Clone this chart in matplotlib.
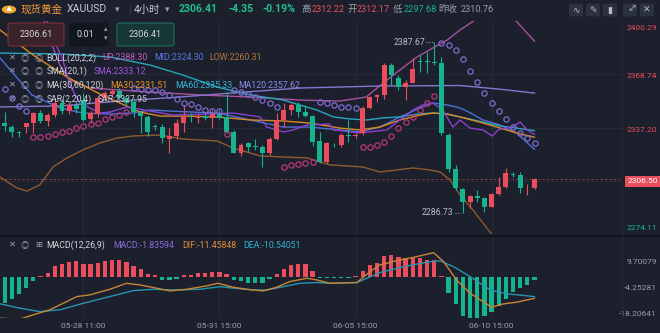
import numpy as np
import matplotlib
matplotlib.use("Agg")
import matplotlib.pyplot as plt
from matplotlib.patches import FancyBboxPatch, Circle
from matplotlib.lines import Line2D

plt.rcParams['font.family'] = ['Roboto', 'Noto Sans CJK SC', 'DejaVu Sans']

# ---- 4h candles, XAUUSD ----
opens = [2340.1, 2337.7, 2334.4, 2337.7, 2339.7, 2346.0, 2341.3, 2344.6, 2351.6, 2347.0,
         2350.5, 2353.5, 2342.3, 2345.2, 2354.5, 2357.1, 2359.0, 2354.5, 2352.5, 2345.7,
         2343.3, 2338.1, 2337.4, 2330.3, 2332.2, 2340.1, 2343.6, 2342.7, 2344.1, 2342.7,
         2345.1, 2343.6, 2334.8, 2322.3, 2327.9, 2325.9, 2325.9, 2322.0, 2330.3, 2341.7,
         2347.6, 2350.6, 2346.6, 2344.1, 2329.3, 2317.0, 2327.6, 2326.9, 2332.8, 2332.5,
         2333.8, 2349.0, 2355.1, 2356.5, 2374.2, 2366.7, 2361.0, 2363.8, 2376.6, 2376.6,
         2376.2, 2375.3, 2332.8, 2312.7, 2300.7, 2293.3, 2296.7, 2295.3, 2290.4, 2297.9,
         2302.2, 2309.7, 2309.1, 2301.2, 2301.2]
highs = [2346.6, 2338.7, 2335.0, 2340.1, 2346.6, 2347.6, 2345.7, 2354.7, 2354.0, 2352.5,
         2353.0, 2357.7, 2347.0, 2355.9, 2359.0, 2360.0, 2360.6, 2356.0, 2354.7, 2347.6,
         2344.6, 2339.3, 2339.3, 2336.8, 2342.1, 2350.6, 2345.8, 2345.2, 2345.2, 2347.6,
         2347.6, 2358.4, 2335.8, 2327.9, 2328.8, 2330.4, 2326.9, 2331.6, 2345.7, 2351.6,
         2351.6, 2352.5, 2350.6, 2344.6, 2334.8, 2328.8, 2328.2, 2333.8, 2341.7, 2333.8,
         2350.0, 2355.9, 2357.1, 2375.3, 2375.3, 2368.3, 2365.4, 2378.2, 2380.2, 2382.1,
         2387.67, 2378.8, 2333.8, 2315.0, 2301.2, 2297.3, 2300.2, 2296.3, 2298.5, 2308.1,
         2313.1, 2311.1, 2311.1, 2303.8, 2307.2]
lows = [2335.4, 2331.8, 2331.8, 2334.0, 2334.2, 2340.1, 2338.1, 2343.5, 2345.5, 2345.0,
        2346.0, 2341.1, 2339.9, 2343.5, 2353.0, 2355.9, 2353.5, 2350.5, 2343.6, 2334.2,
        2332.2, 2335.8, 2327.9, 2322.3, 2330.3, 2334.8, 2340.7, 2339.7, 2341.7, 2336.8,
        2342.0, 2334.0, 2322.0, 2320.4, 2322.9, 2323.9, 2314.0, 2321.0, 2329.8, 2337.7,
        2344.6, 2343.6, 2343.6, 2326.3, 2316.0, 2316.2, 2325.9, 2325.9, 2328.8, 2330.8,
        2332.8, 2348.2, 2352.5, 2353.9, 2362.4, 2359.4, 2353.5, 2363.4, 2370.3, 2369.3,
        2374.2, 2332.8, 2310.9, 2300.2, 2286.73, 2289.4, 2293.3, 2287.5, 2290.0, 2297.3,
        2301.2, 2307.9, 2298.3, 2297.3, 2300.6]
closes = [2338.1, 2334.4, 2334.0, 2339.7, 2346.0, 2341.3, 2344.6, 2351.6, 2347.0, 2350.5,
          2348.0, 2341.7, 2345.8, 2354.5, 2357.5, 2359.0, 2354.5, 2352.0, 2346.6, 2344.1,
          2334.8, 2337.8, 2330.8, 2332.2, 2340.1, 2343.6, 2343.3, 2344.1, 2342.7, 2345.2,
          2342.7, 2334.8, 2322.3, 2326.9, 2325.9, 2325.6, 2322.0, 2330.3, 2341.7, 2347.6,
          2350.6, 2346.6, 2344.1, 2328.8, 2317.0, 2327.9, 2327.3, 2332.8, 2332.5, 2332.8,
          2349.0, 2355.1, 2356.5, 2374.2, 2368.3, 2361.4, 2363.8, 2371.7, 2376.3, 2375.8,
          2375.6, 2333.8, 2312.7, 2301.2, 2293.3, 2296.7, 2295.3, 2290.4, 2297.9, 2302.2,
          2310.1, 2309.3, 2301.2, 2301.6, 2306.5]

sar = [2359.8, 2354.7, 2350.0, 2347.0, 2331.4, 2331.8, 2332.4, 2333.4, 2334.4, 2335.3,
       2337.1, 2338.3, 2339.3, 2339.7, 2342.1, 2343.6, 2344.6, 2346.2, 2360.6, 2360.3,
       2359.7, 2359.4, 2358.4, 2356.2, 2353.9, 2351.6, 2350.9, 2349.2, 2347.6, 2347.2,
       2347.0, 2333.4, 2359.4, 2358.4, 2357.1, 2355.5, 2353.5, 2351.6, 2349.2, 2314.0,
       2315.0, 2315.6, 2316.4, 2317.0, 2352.5, 2351.6, 2350.6, 2349.6, 2349.2, 2348.6,
       2325.5, 2325.9, 2326.9, 2328.8, 2332.2, 2336.8, 2340.7, 2343.6, 2347.6, 2351.9,
       2355.9, 2387.4, 2386.1, 2383.1, 2377.8, 2370.9, 2364.0, 2357.8, 2351.9, 2347.0,
       2342.1, 2337.7, 2333.8, 2330.8, 2327.95]

# indicator lines: candle position -> value
boll_up_x = [4.8, 5.5, 6.6, 7.7, 9.1, 11.9, 16.1, 20.3, 27.3, 34.3, 41.2, 46.8, 50.5, 53.4,
             55.2, 57.6, 59.8, 61.8, 63.6, 65.7, 68.5, 71.3, 74]
boll_up = [2420.0, 2400.9, 2386.1, 2374.2, 2365.4, 2360.6, 2359.4, 2358.2, 2356.5, 2355.3,
           2353.5, 2352.9, 2355.3, 2365.4, 2371.3, 2379.0, 2384.3, 2389.0, 2395.0, 2400.9,
           2408.0, 2400.9, 2388.30]
boll_mid_x = [-0.66, 3.8, 7.7, 10.9, 14.7, 17.9, 20.3, 24.9, 29.65, 34.3, 38.9, 42.6, 46.8,
              49.6, 52.4, 55.2, 58.0, 59.8, 61.8, 63.6, 65.0, 66.8, 69.2, 71.5, 74]
boll_mid = [2378.4, 2356.5, 2348.8, 2345.8, 2345.2, 2345.8, 2347.6, 2346.6, 2345.8, 2341.7,
            2337.5, 2337.5, 2335.8, 2334.6, 2337.5, 2343.5, 2348.8, 2351.7, 2350.6, 2348.8,
            2346.0, 2341.7, 2338.7, 2334.0, 2324.30]
boll_low_x = [-0.66, 1.7, 3.1, 4.9, 6.75, 8.7, 10.9, 13.3, 15.7, 17.9, 21.7, 24.9, 29.65,
              31.9, 35.7, 38.9, 42.2, 45.4, 50.0, 52.4, 54.8, 57.0, 59.4, 60.8, 62.2, 63.6,
              65.4, 68.1, 74]
boll_low = [2307.9, 2301.4, 2299.6, 2303.2, 2313.9, 2319.2, 2323.9, 2328.1, 2331.0, 2332.2,
            2332.8, 2330.4, 2329.3, 2325.1, 2320.4, 2319.8, 2319.2, 2315.1, 2313.9, 2310.9,
            2312.1, 2313.3, 2312.1, 2310.9, 2306.2, 2297.3, 2288.4, 2273.6, 2260.31]
sma_x = [5.9, 6.8, 8.0, 9.1, 10.5, 13.3, 14.7, 17.1, 23.5, 28.3, 31.9, 35.7, 36.6, 38.9,
         40.3, 42.2, 45.4, 45.9, 49.6, 53.4, 55.2, 57.0, 58.4, 59.8, 61.2, 62.6, 63.6, 65.0,
         66.8, 68.1, 68.9, 69.9, 70.9, 72.0, 72.95, 74]
sma = [2400.9, 2389.0, 2379.0, 2362.4, 2351.7, 2345.8, 2346.4, 2349.4, 2344.6, 2345.2,
       2345.8, 2343.5, 2337.5, 2334.6, 2335.8, 2338.7, 2339.3, 2335.8, 2334.0, 2335.8,
       2341.7, 2347.6, 2350.6, 2351.7, 2347.6, 2337.5, 2341.7, 2336.9, 2335.8, 2332.2,
       2335.8, 2336.9, 2337.5, 2340.5, 2335.8, 2333.12]
ma30_x = [-0.66, 3.95, 8.7, 13.3, 16.1, 18.9, 21.7, 24.9, 29.65, 34.3, 38.9, 42.6, 46.8,
          49.6, 52.4, 55.2, 58.0, 59.8, 61.8, 63.6, 66.8, 69.2, 71.5, 74]
ma30 = [2395.0, 2380.2, 2367.1, 2357.1, 2351.7, 2346.4, 2344.0, 2344.0, 2343.5, 2341.7,
        2341.1, 2339.9, 2336.9, 2335.8, 2337.5, 2341.7, 2344.6, 2345.8, 2345.2, 2343.5,
        2339.9, 2336.9, 2334.0, 2331.51]
ma60_x = [-0.66, 7.7, 14.7, 20.3, 24.9, 29.65, 34.3, 38.9, 41.2, 43.6, 45.9, 48.2, 50.6,
          52.8, 55.2, 57.6, 59.8, 61.8, 63.6, 66.8, 69.2, 71.5, 74]
ma60 = [2381.3, 2380.8, 2379.0, 2374.2, 2368.3, 2361.2, 2356.5, 2353.5, 2350.6, 2347.6,
        2343.5, 2342.3, 2341.7, 2342.9, 2343.5, 2345.2, 2345.8, 2345.2, 2343.5, 2340.5,
        2338.1, 2336.9, 2335.33]
ma120_x = [-0.66, 7.7, 16.1, 24.5, 31.5, 41.2, 52.4, 63.6, 69.2, 74]
ma120 = [2349.4, 2350.0, 2352.9, 2355.3, 2357.6, 2360.6, 2361.8, 2362.1, 2359.9, 2357.62]

macd_hist = [-14.0, -11.6, -8.9, -5.7, -2.1, 0.3, 2.1, 5.7, 7.2, 8.1,
             8.4, 7.2, 7.2, 7.7, 8.4, 9.3, 9.0, 8.1, 5.7, 4.0,
             1.8, 0.9, -1.8, -1.8, -0.9, 0.9, 1.3, 2.1, 2.1, 2.7,
             2.7, 1.8, -1.8, -2.1, -3.0, -3.0, -3.0, -0.9, 1.8, 4.0,
             6.3, 6.7, 6.7, 3.2, -0.5, -0.5, -0.8, -0.3, -0.3, 0.3,
             3.2, 6.3, 7.7, 11.3, 11.7, 10.7, 9.9, 9.9, 9.9, 9.3,
             9.0, 0.3, -8.6, -14.7, -21.1, -21.8, -21.8, -21.1, -18.8, -15.7,
             -11.6, -8.1, -5.7, -4.5, -1.84]
dif_x = [-0.66, 2.1, 4.0, 6.3, 10.1, 11.9, 14.7, 17.0, 18.9, 21.2, 23.1, 25.4, 28.2, 29.8,
         31.9, 33.8, 36.1, 38.0, 39.8, 42.2, 43.6, 45.4, 49.2, 51.0, 52.4, 54.7, 57.1, 59.9,
         61.3, 63.1, 65.0, 66.8, 68.0, 69.6, 71.5, 74]
dif = [-22.1, -22.6, -20.3, -17.6, -10.5, -9.6, -6.6, -3.4, -4.3, -6.0, -7.5, -6.6, -4.8, -3.4,
       -5.5, -6.6, -7.5, -5.5, -2.5, -0.7, -1.6, -3.4, -3.0, 2.8, 6.4, 8.7, 10.5, 13.0,
       8.2, -1.6, -8.7, -13.2, -16.2, -14.5, -13.5, -11.45848]
dea_x = [-0.66, 2.1, 4.9, 7.7, 11.0, 14.7, 18.0, 20.8, 23.5, 27.3, 30.1, 31.9, 34.7, 36.6,
         38.9, 41.2, 43.6, 45.4, 49.2, 52.4, 55.7, 59.4, 60.8, 62.7, 65.0, 67.8, 70.1, 74]
dea = [-14.4, -16.7, -18.6, -17.6, -14.1, -10.5, -7.3, -6.6, -7.0, -6.6, -5.2, -6.0, -7.0, -7.0,
       -5.2, -3.4, -3.0, -3.4, -3.0, 2.3, 5.5, 8.2, 8.6, 5.5, 0.2, -7.0, -9.0, -10.54051]

time_ticks = [11, 30, 49, 68]
time_labels = ['05-28 11:00', '05-31 15:00', '06-05 15:00', '06-10 15:00']
price_ticks = [2400.29, 2368.74, 2337.20, 2305.65, 2274.11]
macd_ticks = [9.70079, -4.25281, -18.20641]
last_price = 2306.50

BG = '#1b202c'
GRID = '#262c39'
RED = '#ea4d5b'
GREEN = '#17b38e'
GREY = '#9aa0ab'
TXT = '#d2d5dc'

W, H = 660, 333
fig = plt.figure(figsize=(W / 100, H / 100), dpi=100, facecolor=BG)


def fx(x):
    return x / W


def fy(y):
    return 1 - y / H


def txt(x, y, s, color, size=6.3, **kw):
    fig.text(fx(x), fy(y), s, color=color, fontsize=size, va='center', **kw)


ax = fig.add_axes([0, fy(234), 622 / W, 213 / H])
mx = fig.add_axes([0, fy(318), 622 / W, 81 / H])
for a in (ax, mx):
    a.set_facecolor(BG)
    a.set_xlim(-0.656, 86.22)
    a.set_yticks([])
    for s in a.spines.values():
        s.set_visible(False)
    for t in time_ticks:
        a.axvline(t, color=GRID, lw=0.8, zorder=0)
ax.set_xticks([])
ax.set_ylim(2274.19, 2400.29)
mx.set_ylim(-22.0, 21.4)

# ---- main pane ----
for p in price_ticks[1:4]:
    ax.axhline(p, color=GRID, lw=0.6, zorder=0)
ax.axhline(last_price, color='#8a3846', lw=0.8, ls=(0, (2, 2)), zorder=1)

lw = 1.0
ax.plot(boll_up_x, boll_up, color='#a9509f', lw=lw, zorder=2)
ax.plot(boll_mid_x, boll_mid, color='#4e6ed8', lw=lw, zorder=2)
ax.plot(boll_low_x, boll_low, color='#8f5a30', lw=lw, zorder=2)
ax.plot(ma120_x, ma120, color='#8576d0', lw=lw, zorder=2)
ax.plot(ma60_x, ma60, color='#28a5bd', lw=lw, zorder=2)
ax.plot(ma30_x, ma30, color='#d88a22', lw=lw, zorder=2)
ax.plot(sma_x, sma, color='#8d3fd0', lw=lw, zorder=2)

idx = np.arange(len(opens))
o, h, l, c = (np.array(v) for v in (opens, highs, lows, closes))
col = np.where(c >= o, RED, GREEN)
ax.vlines(idx, l, h, colors=col, lw=0.8, zorder=3)
ax.bar(idx, np.maximum(np.abs(c - o), 0.45), bottom=np.minimum(o, c), width=0.68,
       color=col, linewidth=0, zorder=3)

sar_a = np.array(sar)
below = sar_a < c
ax.plot(idx[below], sar_a[below], 'o', mfc='none', mec='#b8387a', ms=3.8, mew=0.9, zorder=4)
ax.plot(idx[~below], sar_a[~below], 'o', mfc='none', mec='#7f6bd0', ms=3.8, mew=0.9, zorder=4)

hi_i = int(np.argmax(h))
lo_i = int(np.argmin(l))
for i, v in ((hi_i, h[hi_i]), (lo_i, l[lo_i])):
    ax.plot([i - 1.15, i - 0.2], [v, v], color='#9aa0ab', lw=0.8, ls=(0, (1, 1.5)))
    ax.text(i - 1.3, v, f'{v:.2f}', color='#b8bcc4', fontsize=6.3, ha='right', va='center')

# right price scale (labels sit a little inside/below their levels, as on the platform)
ytr = ax.get_yaxis_transform()
shifts = [-7, -2.2, -2.5, None, 6]
for p, dy in zip(price_ticks, shifts):
    if dy is None:
        continue
    ax.annotate(f'{p:.2f}', xy=(1.056, p), xycoords=ytr, xytext=(0, dy * 0.72),
                textcoords='offset points', color=GREEN if p < last_price else RED,
                fontsize=6.0, ha='right', va='center', annotation_clip=False)
ax.annotate(f'{last_price:.2f}', xy=(1.0575, last_price), xycoords=ytr, xytext=(0, -1.4),
            textcoords='offset points', color='white', fontsize=6.0, ha='right', va='center',
            annotation_clip=False, bbox=dict(boxstyle='square,pad=0.3', fc=RED, ec='none'))

# ---- MACD pane ----
hist = np.array(macd_hist)
mx.bar(idx, hist, width=0.6, color=np.where(hist >= 0, RED, GREEN), linewidth=0, zorder=2)
mx.plot(dea_x, dea, color='#2894b0', lw=lw, zorder=3)
mx.plot(dif_x, dif, color='#c98536', lw=lw, zorder=3)
mtr = mx.get_yaxis_transform()
for v in macd_ticks:
    mx.annotate(f'{v:.5f}', xy=(1.056, v), xycoords=mtr, xytext=(0, -2.2),
                textcoords='offset points', color=GREY, fontsize=6.0, ha='right',
                va='center', annotation_clip=False)
mx.set_xticks(time_ticks)
mx.set_xticklabels(time_labels)
mx.tick_params(axis='x', length=0, pad=3.5, labelsize=6.0, labelcolor=GREY)

fig.add_artist(Line2D([0, 1], [fy(235.5)] * 2, color='#0f1219', lw=1.2))
fig.add_artist(Line2D([fx(622), fx(622)], [fy(318), fy(21)], color=GRID, lw=0.6))

# ---- header ----
fig.add_artist(Circle((fx(9), fy(9.5)), 6.5 / W, color='#f0a82a', transform=fig.transFigure))
txt(9, 9.5, '▲', 'white', 4.5, ha='center')
txt(21, 9.5, '现货黄金', '#f29b3b', 7.6)
txt(67, 9.5, 'XAUUSD', '#c9ccd3', 7.6)
txt(117, 9.5, '▾', GREY, 6.5, ha='center')
txt(130, 9.5, '|', '#3a4050', 8.0, ha='center')
txt(134, 9.5, '4小时', '#c9ccd3', 7.4)
txt(167, 9.5, '▾', GREY, 6.5, ha='center')
txt(179, 9.5, '2306.41', '#21c08b', 7.6, fontweight='bold')
txt(228, 9.5, '-4.35', '#21c08b', 7.6, fontweight='bold')
txt(262, 9.5, '-0.19%', '#21c08b', 7.6, fontweight='bold')
txt(301, 9.5, '高', GREY, 6.8)
txt(312, 9.5, '2312.22', RED, 6.6)
txt(347, 9.5, '开', GREY, 6.8)
txt(357, 9.5, '2312.17', RED, 6.6)
txt(393, 9.5, '低', GREY, 6.8)
txt(404, 9.5, '2297.68', GREEN, 6.6)
txt(438, 9.5, '昨收', GREY, 6.8)
txt(461, 9.5, '2310.76', GREY, 6.6)
for x0, g, rot in zip([569, 586, 603, 623, 640], ['∿', '✎', '▮', '↕', '✕'], [0, 0, 0, -45, 0]):
    fig.patches.append(FancyBboxPatch((fx(x0), fy(16.5)), 14 / W, 13 / H,
                                      boxstyle='round,pad=0,rounding_size=0.004',
                                      transform=fig.transFigure, fc='#2b313f', ec='none'))
    txt(x0 + 7, 10, g, '#b9bdc6', 6.5, ha='center', rotation=rot, rotation_mode='anchor')

# price boxes
for x0, wd, fc, ec in [(8, 56, '#3b232b', '#7a2f3b'), (70, 38, '#12161e', '#12161e'),
                       (117, 57, '#163733', '#1f6e5e')]:
    fig.patches.append(FancyBboxPatch((fx(x0), fy(46)), wd / W, 23 / H,
                                      boxstyle='round,pad=0,rounding_size=0.005',
                                      transform=fig.transFigure, fc=fc, ec=ec, lw=0.8))
txt(36, 34.5, '2306.61', TXT, 6.6, ha='center')
txt(85, 34.5, '0.01', TXT, 6.6, ha='center')
txt(106, 30, '▴', GREY, 5, ha='center')
txt(106, 39, '▾', GREY, 5, ha='center')
txt(145.5, 34.5, '2306.41', TXT, 6.6, ha='center')

# indicator legends
legend_rows = [
    (58, [('BOLL(20,2,2)', 46.7, TXT), ('UP:2388.30', 102, '#c05ec2'),
          ('MID:2324.30', 154, '#5a78e6'), ('LOW:2260.31', 209.5, '#b8783e')]),
    (71, [('SMA(20,1)', 46.7, TXT), ('SMA:2333.12', 94, '#a552e6')]),
    (85, [('MA(30,60,120)', 46.7, TXT), ('MA30:2331.51', 110.7, '#ec951f'),
          ('MA60:2335.33', 175.7, '#33b8d2'), ('MA120:2357.62', 238.7, '#8f8cea')]),
    (99, [('SAR(2,20,4)', 46.7, TXT), ('SAR:2327.95', 98, '#c9ccd3')]),
    (245, [('MACD(12,26,9)', 46.7, TXT), ('MACD:-1.83594', 113.3, '#8b6fe0'),
           ('DIF:-11.45848', 182.7, '#e0903a'), ('DEA:-10.54051', 243.3, '#2fb2cc')]),
]
for y, items in legend_rows:
    txt(12.5, y, '✕', GREY, 6.0, ha='center')
    txt(25, y, '◎', GREY, 6.0, ha='center')
    txt(38.5, y, '⊞' if y == 245 else '◎', GREY, 6.0, ha='center')
    for s, x, cl in items:
        txt(x, y, s, cl, 6.3)

fig.savefig('out.png', dpi=100, facecolor=BG)
